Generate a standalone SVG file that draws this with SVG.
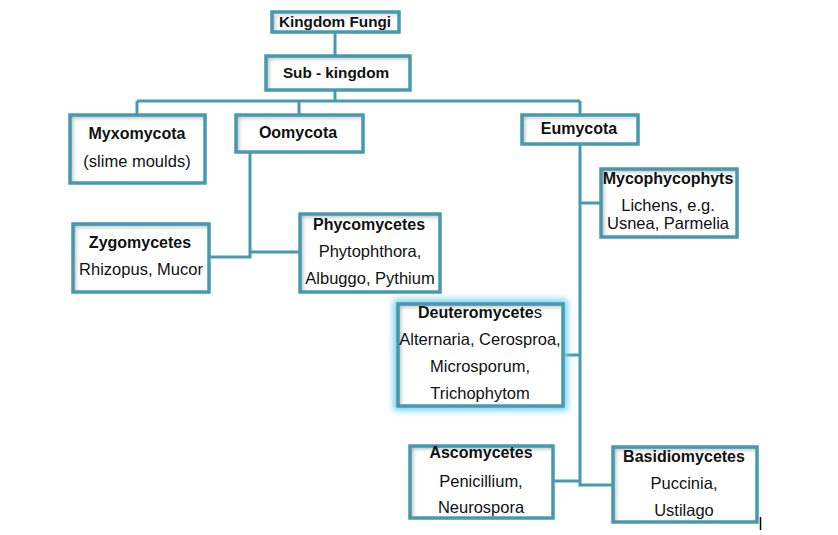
<svg xmlns="http://www.w3.org/2000/svg" width="838" height="535" viewBox="0 0 838 535">
<defs>
<filter id="inset" x="-10%" y="-10%" width="120%" height="120%">
<feFlood flood-color="#000" flood-opacity="0.55" result="f"/>
<feComposite in="f" in2="SourceAlpha" operator="out" result="o"/>
<feOffset in="o" dx="3" dy="3" result="off"/>
<feGaussianBlur in="off" stdDeviation="2" result="b"/>
<feComposite in="b" in2="SourceAlpha" operator="in" result="s"/>
<feMerge><feMergeNode in="SourceGraphic"/><feMergeNode in="s"/></feMerge>
</filter>
<filter id="glow" x="-20%" y="-20%" width="140%" height="140%">
<feGaussianBlur stdDeviation="3"/>
</filter>
</defs>
<style>
.bg{fill:#fff;filter:url(#inset)}
.bd{fill:none;stroke:#4799b0;stroke-width:3.5}
.c{fill:none;stroke:#4799b0;stroke-width:3}
text{font-family:"Liberation Sans",Arial,sans-serif;font-size:16.5px;fill:#111;text-anchor:middle}
.b{font-weight:bold;font-size:16px}
.t{font-size:15.3px}
</style>
<rect width="838" height="535" fill="#fff"/>
<g id="connectors">
<path class="c" d="M335,32V56M335,90V101M137,101H580M137,101V115M299,101V115M580,101V115"/>
<path class="c" d="M250,152V257H209M250,252H300"/>
<path class="c" d="M580,144V485H613M580,203H601M563,355H580M553,481H580"/>
</g>
<g id="kingdom">
<rect class="bg" x="272" y="12" width="127" height="20"/><rect class="bd" x="272" y="12" width="127" height="20"/>
<text class="b t" x="335" y="27">Kingdom Fungi</text>
</g>
<g id="subkingdom">
<rect class="bg" x="266" y="56" width="144" height="34"/><rect class="bd" x="266" y="56" width="144" height="34"/>
<text class="b t" x="336" y="78">Sub - kingdom</text>
</g>
<g id="myxomycota">
<rect class="bg" x="70" y="115" width="135" height="68"/><rect class="bd" x="70" y="115" width="135" height="68"/>
<text class="b" x="137" y="139">Myxomycota</text>
<text x="137" y="167">(slime moulds)</text>
</g>
<g id="oomycota">
<rect class="bg" x="236" y="115" width="127" height="37"/><rect class="bd" x="236" y="115" width="127" height="37"/>
<text class="b" x="298" y="138">Oomycota</text>
</g>
<g id="eumycota">
<rect class="bg" x="522" y="115" width="116" height="29"/><rect class="bd" x="522" y="115" width="116" height="29"/>
<text class="b" x="579" y="134">Eumycota</text>
</g>
<g id="mycophycophyts">
<rect class="bg" x="601" y="169" width="136" height="68"/><rect class="bd" x="601" y="169" width="136" height="68"/>
<text class="b" x="668" y="184">Mycophycophyts</text>
<text x="668" y="211">Lichens, e.g.</text>
<text x="668" y="229">Usnea, Parmelia</text>
</g>
<g id="zygomycetes">
<rect class="bg" x="73" y="224" width="136" height="68"/><rect class="bd" x="73" y="224" width="136" height="68"/>
<text class="b" x="140" y="248">Zygomycetes</text>
<text x="141" y="275">Rhizopus, Mucor</text>
</g>
<g id="phycomycetes">
<rect class="bg" x="300" y="214" width="140" height="78"/><rect class="bd" x="300" y="214" width="140" height="78"/>
<text class="b" x="369" y="230">Phycomycetes</text>
<text x="370" y="257">Phytophthora,</text>
<text x="370" y="284">Albuggo, Pythium</text>
</g>
<g id="deuteromycetes">
<rect x="398" y="304" width="165" height="102" fill="none" stroke="#74d0f0" stroke-width="9" filter="url(#glow)"/>
<rect class="bg" x="398" y="304" width="165" height="102"/><rect class="bd" x="398" y="304" width="165" height="102"/>
<text x="480" y="318"><tspan class="b">Deuteromycete</tspan>s</text>
<text x="480" y="345">Alternaria, Cerosproa,</text>
<text x="480" y="372">Microsporum,</text>
<text x="480" y="399">Trichophytom</text>
</g>
<g id="ascomycetes">
<rect class="bg" x="410" y="446" width="143" height="72"/><rect class="bd" x="410" y="446" width="143" height="72"/>
<text class="b" x="481" y="458">Ascomycetes</text>
<text x="481" y="487">Penicillium,</text>
<text x="481" y="513">Neurospora</text>
</g>
<g id="basidiomycetes">
<rect class="bg" x="613" y="447" width="144" height="75"/><rect class="bd" x="613" y="447" width="144" height="75"/>
<text class="b" x="684" y="462">Basidiomycetes</text>
<text x="684" y="489">Puccinia,</text>
<text x="684" y="516">Ustilago</text>
</g>
<line x1="760.5" y1="517" x2="760.5" y2="530" stroke="#000" stroke-width="1.5"/>
</svg>
